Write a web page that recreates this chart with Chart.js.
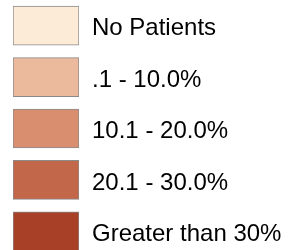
<!DOCTYPE html>
<html>
<head>
<meta charset="utf-8">
<script src="https://cdn.jsdelivr.net/npm/chart.js@4"></script>
<style>
  html, body { margin: 0; padding: 0; background: #fff; overflow: hidden; }
  /* the last swatch runs past the bottom edge in the original */
  #wrap { width: 291px; height: 257px; }
</style>
</head>
<body>
<div id="wrap"><canvas id="legendChart"></canvas></div>
<script>
// Legend categories and their swatch colours
const categories = ['No Patients', '.1 - 10.0%', '10.1 - 20.0%', '20.1 - 30.0%', 'Greater than 30%'];
const swatchColors = ['#fcebd6', '#ebb99b', '#d98e70', '#c2674a', '#a84028'];
// every swatch is a full-width bar
const swatchValues = [1, 1, 1, 1, 1];

const config = {
  type: 'bar',
  data: {
    labels: categories,
    datasets: [{
      data: swatchValues,
      backgroundColor: swatchColors,
      borderColor: '#8a8a8a',
      borderWidth: 1,
      borderSkipped: false,
      barThickness: 39
    }]
  },
  options: {
    indexAxis: 'y',
    responsive: true,
    maintainAspectRatio: false,
    animation: false,
    layout: { padding: { left: 13, top: 0, right: 0, bottom: 0 } },
    plugins: { legend: { display: false }, tooltip: { enabled: false } },
    scales: {
      x: { display: false, min: 0, max: 1 },
      y: {
        position: 'right',
        grid: { display: false, drawTicks: false },
        border: { display: false },
        ticks: {
          padding: 13,
          labelOffset: 3,
          color: '#000',
          font: { family: 'Liberation Sans, Arial, sans-serif', size: 24 }
        },
        afterFit: (axis) => {
          axis.width = 212;
          // the labels sit inside the bands, no extra room needed above/below
          axis.paddingTop = 0;
          axis.paddingBottom = 0;
        }
      }
    }
  }
};

const ctx = document.getElementById('legendChart').getContext('2d');
new Chart(ctx, config);
</script>
</body>
</html>
